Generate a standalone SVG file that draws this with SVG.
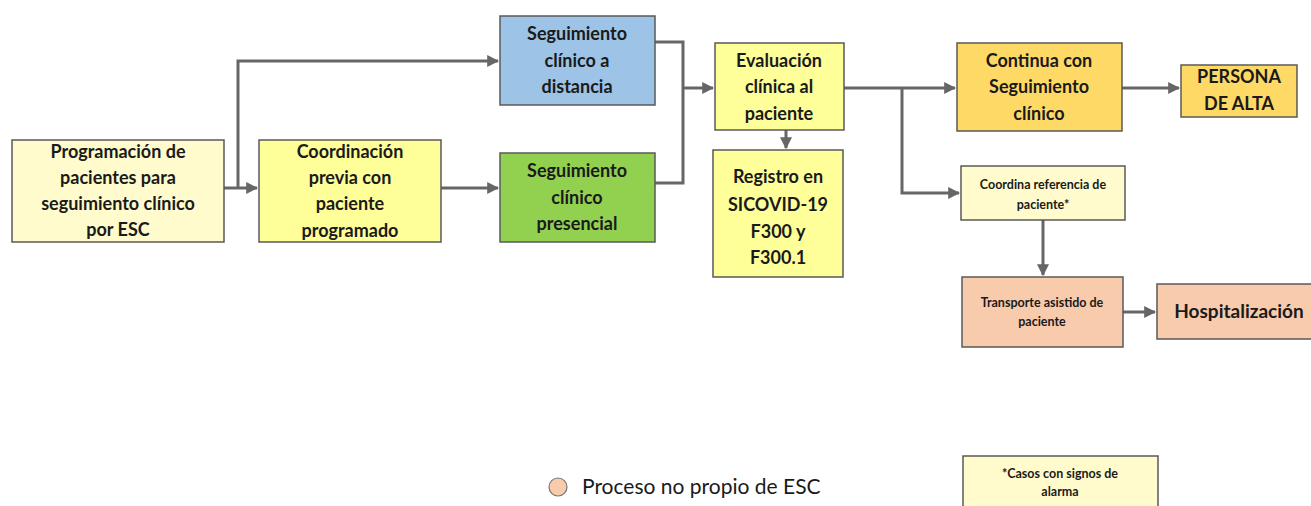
<svg xmlns="http://www.w3.org/2000/svg" width="1311" height="506" viewBox="0 0 1311 506">
<style>
.box{stroke:#595959;stroke-width:1.5}
.t{font-family:Lato,"Liberation Sans",sans-serif;font-weight:700;font-size:18px;fill:#1a1a1a;text-anchor:middle}
.s{font-family:Lato,"Liberation Sans",sans-serif;font-weight:700;font-size:12.5px;fill:#1a1a1a;text-anchor:middle}
.c{fill:none;stroke:#666;stroke-width:3}
.ly{fill:#FFFBCC}.y{fill:#FFFF99}.b{fill:#9DC3E6}.g{fill:#92D050}.o{fill:#FFD966}.p{fill:#F8CBAD}
</style>
<defs>
<marker id="ah" viewBox="0 0 10 10" refX="9" refY="5" markerWidth="4" markerHeight="4" orient="auto" markerUnits="strokeWidth">
<path d="M0,0 L10,5 L0,10 z" fill="#666"/>
</marker>
</defs>
<rect width="1311" height="506" fill="#fff"/>
<g id="connectors">
<line class="c" x1="224" y1="188" x2="257" y2="188" marker-end="url(#ah)"/>
<polyline class="c" points="238,188 238,61 498,61" marker-end="url(#ah)"/>
<line class="c" x1="441" y1="188" x2="498" y2="188" marker-end="url(#ah)"/>
<polyline class="c" points="655,42 683,42 683,183 655,183"/>
<line class="c" x1="683" y1="88" x2="713" y2="88" marker-end="url(#ah)"/>
<line class="c" x1="786" y1="130" x2="786" y2="148" marker-end="url(#ah)"/>
<line class="c" x1="844" y1="88" x2="955" y2="88" marker-end="url(#ah)"/>
<polyline class="c" points="902,88 902,193 959,193" marker-end="url(#ah)"/>
<line class="c" x1="1122" y1="88" x2="1179" y2="88" marker-end="url(#ah)"/>
<line class="c" x1="1043" y1="220" x2="1043" y2="275" marker-end="url(#ah)"/>
<line class="c" x1="1123" y1="312" x2="1155" y2="312" marker-end="url(#ah)"/>
</g>
<g id="n1"><rect class="box ly" x="12" y="140" width="212" height="102"/>
<text class="t" x="118" y="158">Programación de</text><text class="t" x="118" y="184">pacientes para</text><text class="t" x="118" y="210">seguimiento clínico</text><text class="t" x="118" y="236">por ESC</text></g>
<g id="n2"><rect class="box y" x="259" y="140" width="182" height="102"/>
<text class="t" x="350" y="158">Coordinación</text><text class="t" x="350" y="184">previa con</text><text class="t" x="350" y="210">paciente</text><text class="t" x="350" y="237">programado</text></g>
<g id="n3"><rect class="box b" x="500" y="16" width="155" height="89"/>
<text class="t" x="577" y="40">Seguimiento</text><text class="t" x="577" y="67">clínico a</text><text class="t" x="577" y="93">distancia</text></g>
<g id="n4"><rect class="box g" x="500" y="153" width="155" height="89"/>
<text class="t" x="577" y="177">Seguimiento</text><text class="t" x="577" y="204">clínico</text><text class="t" x="577" y="230">presencial</text></g>
<g id="n5"><rect class="box y" x="715" y="43" width="129" height="87"/>
<text class="t" x="779" y="67">Evaluación</text><text class="t" x="779" y="93">clínica al</text><text class="t" x="779" y="120">paciente</text></g>
<g id="n6"><rect class="box y" x="713" y="150" width="130" height="127"/>
<text class="t" x="778" y="183">Registro en</text><text class="t" x="778" y="211">SICOVID-19</text><text class="t" x="778" y="238">F300 y</text><text class="t" x="778" y="264">F300.1</text></g>
<g id="n7"><rect class="box o" x="957" y="43" width="165" height="88"/>
<text class="t" x="1039" y="67">Continua con</text><text class="t" x="1039" y="93">Seguimiento</text><text class="t" x="1039" y="120">clínico</text></g>
<g id="n8"><rect class="box o" x="1181" y="65" width="116" height="52"/>
<text class="t" x="1239" y="83">PERSONA</text><text class="t" x="1239" y="110">DE ALTA</text></g>
<g id="n9"><rect class="box ly" x="961" y="166" width="164" height="54"/>
<text class="s" x="1043" y="189">Coordina referencia de</text><text class="s" x="1043" y="209">paciente*</text></g>
<g id="n10"><rect class="box p" x="962" y="277" width="161" height="70"/>
<text class="s" x="1042" y="307">Transporte asistido de</text><text class="s" x="1042" y="326">paciente</text></g>
<g id="n11"><rect class="box p" x="1157" y="284" width="160" height="55"/>
<text class="t" x="1239" y="318" style="font-size:19px">Hospitalización</text></g>
<g id="legend">
<circle cx="558" cy="487" r="9" fill="#F8CBAD" stroke="#777" stroke-width="1.2"/>
<text x="582" y="494" font-family="Lato,'Liberation Sans',sans-serif" font-size="21" fill="#1a1a1a">Proceso no propio de ESC</text>
<rect class="box ly" x="963" y="456" width="195" height="56"/>
<text class="s" x="1060" y="478">*Casos con signos de</text><text class="s" x="1060" y="496">alarma</text>
</g>
</svg>
